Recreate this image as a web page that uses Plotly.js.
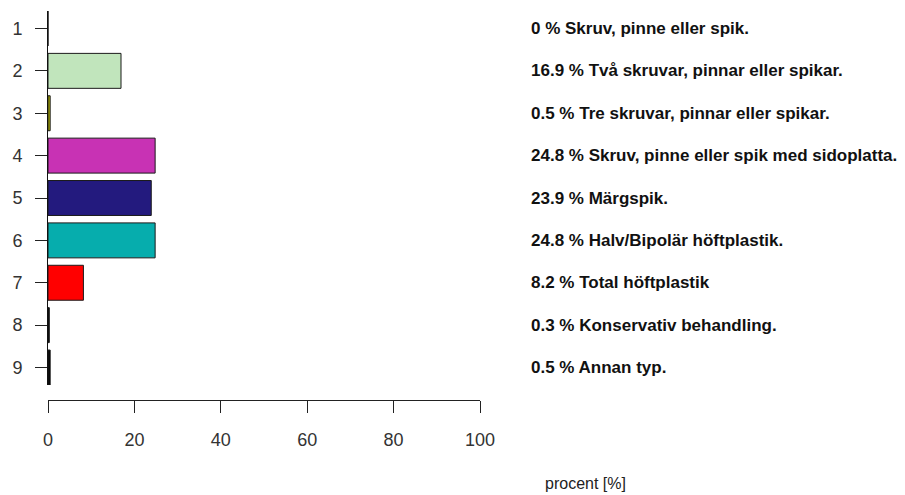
<!DOCTYPE html>
<html>
<head>
<meta charset="utf-8">
<script src="https://cdn.plot.ly/plotly-3.0.1.min.js"></script>
<style>
  html, body { margin: 0; padding: 0; background: #ffffff; }
  #chart { width: 905px; height: 495px; }
</style>
</head>
<body>
<div id="chart"></div>
<script>
const categories = [1, 2, 3, 4, 5, 6, 7, 8, 9];
const values = [0, 16.9, 0.5, 24.8, 23.9, 24.8, 8.2, 0.3, 0.5];
const labels = [
  "Skruv, pinne eller spik.",
  "Två skruvar, pinnar eller spikar.",
  "Tre skruvar, pinnar eller spikar.",
  "Skruv, pinne eller spik med sidoplatta.",
  "Märgspik.",
  "Halv/Bipolär höftplastik.",
  "Total höftplastik",
  "Konservativ behandling.",
  "Annan typ."
];
const barColors = ["#ffffff", "#c1e5bc", "#b5b500", "#c832b4", "#231a7e", "#06adad", "#ff0000", "#000000", "#000000"];
const xTicks = [0, 20, 40, 60, 80, 100];
const axisTitle = "procent [%]";

const FONT = '"Liberation Sans", Arial, Helvetica, sans-serif';

const trace = {
  type: 'bar',
  orientation: 'h',
  x: values,
  y: categories,
  width: 0.825,
  marker: { color: barColors, line: { color: '#1a1a1a', width: 1 } },
  hoverinfo: 'skip'
};

const annotations = categories.map((c, i) => ({
  xref: 'paper', yref: 'y',
  x: 1, y: c,
  xanchor: 'left', yanchor: 'middle',
  xshift: 49,
  text: '<b>' + values[i] + ' % ' + labels[i] + '</b>',
  showarrow: false,
  font: { family: FONT, size: 17, color: '#111111' }
}));
annotations.push({
  xref: 'paper', yref: 'paper',
  x: 1, y: 0,
  xanchor: 'center', yanchor: 'middle',
  xshift: 105, yshift: -83,
  text: axisTitle,
  showarrow: false,
  font: { family: FONT, size: 16, color: '#222222' }
});

const layout = {
  width: 905, height: 495,
  margin: { l: 47.7, r: 425, t: 11, b: 95, pad: 0 },
  paper_bgcolor: '#ffffff',
  plot_bgcolor: '#ffffff',
  showlegend: false,
  font: { family: FONT, size: 18, color: '#333333' },
  xaxis: {
    range: [0, 100],
    tickvals: xTicks,
    ticktext: xTicks.map(String),
    ticks: 'outside', ticklen: 12, tickwidth: 1, tickcolor: '#222222',
    showline: true, linecolor: '#222222', linewidth: 1,
    showgrid: false, zeroline: false,
    anchor: 'free', position: 0,
    ticklabelstandoff: 11,
    tickfont: { family: FONT, size: 18, color: '#333333' },
    fixedrange: true
  },
  yaxis: {
    domain: [15 / 389, 1],
    range: [9.4125, 0.5875],
    tickvals: categories,
    ticktext: categories.map(String),
    ticks: 'outside', ticklen: 12, tickwidth: 1, tickcolor: '#222222',
    showline: true, linecolor: '#111111', linewidth: 1,
    showgrid: false, zeroline: false,
    ticklabelstandoff: 9,
    tickfont: { family: FONT, size: 18, color: '#333333' },
    fixedrange: true
  },
  annotations: annotations
};

Plotly.newPlot('chart', [trace], layout, { displayModeBar: false, staticPlot: true });
</script>
</body>
</html>
